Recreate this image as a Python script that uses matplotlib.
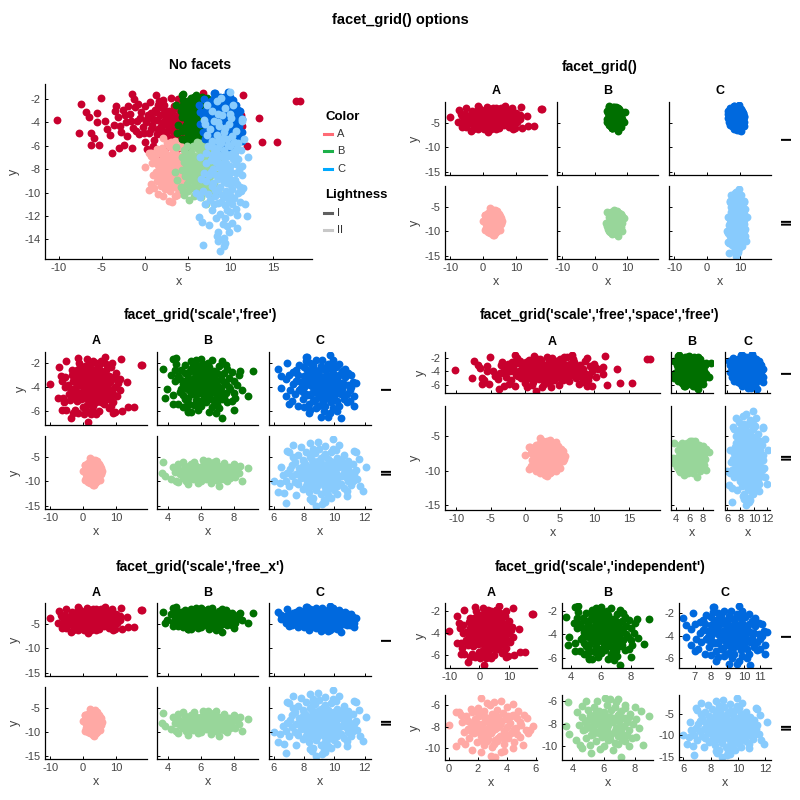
import numpy as np
import matplotlib
matplotlib.use('Agg')
import matplotlib.pyplot as plt
from matplotlib.ticker import MultipleLocator
from matplotlib.lines import Line2D

plt.rcParams['font.family'] = ['Liberation Sans', 'DejaVu Sans']
plt.rcParams['axes.unicode_minus'] = False

# categories
colors_lab = ['A', 'B', 'C']
light_lab = ['I', 'II']

# point clouds (x, y) - group A, lightness I
a_1 = np.array([
    (-10.2, -3.8), (-7.7, -4.9), (-7.4, -2.4), (-6.8, -3.1), (-6.5, -3.5), (-6.3, -5.9),
    (-6.2, -4.9), (-5.9, -5.3), (-5.5, -3.2), (-5.6, -4.0), (-5.3, -5.9), (-5.1, -1.9),
    (-4.6, -3.9), (-4.4, -4.6), (-3.8, -6.6), (-3.0, -6.2), (-1.5, -6.2), (-1.5, -1.6),
    (-1.2, -2.0), (1.3, -1.7), (2.1, -2.1), (3.1, -1.9), (6.8, -1.5), (6.0, -1.9),
    (11.5, -1.7), (13.3, -3.6), (13.7, -5.7), (15.4, -5.7), (11.9, -6.0), (17.7, -2.2),
    (18.1, -2.2), (11.2, -3.4), (11.3, -4.3), (1.5, -6.9), (9.7, -6.1), (3.8, -6.3),
    (-3.6, -4.2), (-3.1, -3.5), (-2.8, -4.8), (-2.5, -2.9), (-2.2, -4.0), (-2.0, -5.2),
    (-1.7, -3.3), (-1.4, -4.5), (-1.1, -2.7), (-0.9, -3.9), (-0.6, -5.0), (-0.4, -3.1),
    (-0.2, -4.4), (0.1, -2.6), (0.3, -3.7), (0.5, -4.9), (0.7, -3.2), (0.9, -4.2),
    (1.1, -5.5), (1.2, -2.9), (1.4, -3.8), (1.6, -4.6), (1.8, -3.4), (2.0, -5.1),
    (2.1, -4.0), (2.3, -2.5), (2.5, -3.6), (2.6, -4.8), (2.8, -3.0), (3.0, -4.3),
    (3.1, -5.6), (3.3, -3.5), (3.5, -4.0), (3.6, -2.8), (3.8, -4.7), (4.0, -3.3),
    (4.1, -5.3), (4.3, -3.9), (4.5, -2.4), (4.6, -4.4), (4.8, -3.1), (5.0, -5.0),
    (5.1, -3.7), (5.3, -4.2), (5.5, -2.7), (5.7, -3.5), (5.8, -4.9), (6.0, -4.0),
    (6.2, -3.0), (6.4, -5.4), (6.6, -3.8), (6.8, -4.5), (7.0, -2.6), (7.2, -3.4),
    (7.4, -5.0), (7.6, -4.1), (7.9, -3.1), (8.1, -4.7), (8.3, -3.6), (8.6, -2.4),
    (8.8, -4.3), (9.1, -5.3), (9.4, -3.2), (9.7, -4.0), (10.0, -2.9), (10.3, -4.8),
    (10.6, -3.7), (-4.0, -5.1), (-3.3, -2.6), (1.0, -6.0), (2.4, -6.3), (4.9, -6.0),
    (7.8, -5.8), (0.0, -5.7), (5.6, -1.9), (-2.4, -5.9), (8.9, -2.0), (9.0, -6.2),
    (1.7, -2.2), (3.9, -2.0), (0.6, -2.3), (6.9, -2.1), (-0.8, -2.4), (2.7, -5.9),
    (3.4, -4.9), (4.4, -3.6), (1.9, -4.3), (3.2, -3.1), (4.7, -4.0), (2.2, -3.3),
    (5.4, -4.6), (0.2, -4.0), (6.3, -4.3), (2.9, -3.9),
    (0.4, -3.4), (0.8, -4.6), (1.3, -3.1), (1.5, -5.0), (1.9, -2.7), (2.2, -4.7),
    (2.4, -3.0), (2.6, -4.2), (3.0, -3.3), (3.2, -4.6), (3.4, -2.6), (3.6, -3.7),
    (3.7, -5.2), (3.9, -4.3), (4.2, -2.9), (4.4, -4.8), (4.6, -3.3), (4.9, -4.4),
    (5.2, -3.0), (5.4, -5.3), (5.6, -4.1), (5.9, -3.2), (6.1, -4.7), (6.5, -2.9),
    (6.7, -4.1), (7.1, -3.8), (7.3, -4.6), (7.7, -3.5), (8.0, -4.3), (8.4, -5.1),
    (-0.5, -3.6), (-1.0, -4.7), (-1.6, -3.9), (-2.3, -3.4), (-2.9, -4.3), (-0.1, -4.9),
    (1.0, -3.7), (2.8, -5.3), (4.1, -4.1), (6.0, -3.5), (-3.5, -3.0), (9.2, -4.6),
    (10.1, -3.4), (1.6, -2.5), (5.0, -2.2), (-1.9, -2.6), (8.5, -5.6), (0.3, -6.3),
])

# group B, lightness I
b_1 = np.array([
    (3.7, -2.5), (4.3, -1.7), (4.5, -1.6), (3.9, -4.2), (3.8, -4.9), (4.3, -5.4),
    (4.9, -5.7), (5.2, -6.1), (5.4, -6.1), (7.3, -6.6), (8.0, -5.9), (8.1, -4.9),
    (8.9, -4.8), (9.2, -2.7), (8.4, -2.7), (6.7, -1.8), (8.0, -3.5), (7.5, -2.2),
    (4.6, -3.1), (4.7, -4.4), (4.8, -2.6), (4.9, -3.8), (5.0, -5.0), (5.0, -2.2),
    (5.1, -4.1), (5.2, -3.3), (5.3, -5.4), (5.3, -2.8), (5.4, -4.6), (5.5, -3.6),
    (5.5, -2.3), (5.6, -4.0), (5.7, -5.1), (5.7, -3.0), (5.8, -4.4), (5.9, -2.6),
    (5.9, -3.7), (6.0, -5.6), (6.0, -4.2), (6.1, -3.2), (6.1, -2.1), (6.2, -4.8),
    (6.2, -3.9), (6.3, -2.8), (6.3, -5.3), (6.4, -3.5), (6.4, -4.5), (6.5, -2.4),
    (6.6, -4.0), (6.6, -5.0), (6.7, -3.1), (6.8, -4.3), (6.8, -2.7), (6.9, -3.7),
    (7.0, -5.4), (7.0, -4.7), (7.1, -2.3), (7.2, -3.4), (7.2, -4.1), (7.3, -5.0),
    (7.4, -2.9), (7.5, -3.8), (7.5, -4.5), (7.6, -2.5), (7.7, -3.3), (7.8, -4.2),
    (7.9, -5.2), (4.4, -3.5), (4.3, -4.7), (4.5, -2.1), (4.6, -5.4), (5.2, -6.0),
    (5.8, -5.9), (6.5, -6.1), (7.1, -5.8), (8.2, -3.9), (8.3, -3.0), (8.5, -4.3),
    (4.2, -3.0), (5.4, -1.9), (6.0, -1.7), (7.3, -1.9), (6.9, -6.2), (5.6, -5.5),
    (6.3, -4.9), (5.9, -3.3), (6.7, -3.6), (5.3, -4.3), (6.1, -4.6), (6.8, -5.2),
    (5.6, -2.7), (7.4, -4.9), (5.0, -3.5),
    (4.9, -4.7), (5.0, -2.9), (5.1, -3.6), (5.2, -4.9), (5.3, -3.9), (5.4, -2.5),
    (5.5, -4.3), (5.6, -3.3), (5.7, -4.7), (5.8, -2.3), (5.8, -3.9), (5.9, -5.2),
    (6.0, -3.0), (6.0, -4.5), (6.1, -3.6), (6.2, -5.1), (6.2, -2.5), (6.3, -4.1),
    (6.4, -3.1), (6.5, -4.8), (6.5, -3.8), (6.6, -2.8), (6.7, -4.4), (6.8, -3.3),
    (6.9, -5.0), (7.0, -3.9), (7.0, -2.9), (7.1, -4.4), (7.2, -3.0), (7.3, -4.6),
    (7.4, -3.6), (7.6, -5.3), (7.7, -4.0), (4.8, -4.2), (5.1, -5.6), (6.7, -5.7),
    (4.7, -3.4), (7.9, -2.8), (8.0, -4.5), (6.4, -2.0), (5.7, -1.8), (4.4, -2.6),
])

# group C, lightness I
c_1 = np.array([
    (6.3, -2.5), (6.5, -3.1), (6.5, -4.1), (6.8, -3.4), (6.8, -4.8), (7.0, -5.4),
    (6.9, -2.0), (8.1, -1.5), (8.2, -1.5), (9.7, -1.4), (8.6, -2.5), (9.1, -6.5),
    (10.4, -6.6), (10.2, -6.0), (11.1, -3.0), (11.2, -3.6), (11.4, -3.7), (11.0, -5.2),
    (10.5, -2.8), (8.3, -6.2), (8.8, -5.8), (9.9, -1.8),
    (7.6, -3.0), (7.7, -4.3), (7.8, -3.6), (7.9, -5.0), (8.0, -2.4), (8.0, -4.0),
    (8.1, -3.3), (8.2, -4.7), (8.3, -2.8), (8.3, -5.4), (8.4, -3.9), (8.5, -3.1),
    (8.5, -4.5), (8.6, -2.2), (8.7, -3.6), (8.7, -5.1), (8.8, -4.2), (8.9, -2.7),
    (8.9, -3.4), (9.0, -4.8), (9.0, -4.0), (9.1, -2.3), (9.1, -5.5), (9.2, -3.2),
    (9.2, -4.4), (9.3, -3.8), (9.4, -2.6), (9.4, -5.0), (9.5, -4.1), (9.5, -3.0),
    (9.6, -4.7), (9.6, -2.1), (9.7, -3.5), (9.8, -5.3), (9.8, -4.3), (9.9, -2.9),
    (10.0, -3.9), (10.0, -4.9), (10.1, -2.4), (10.2, -3.3), (10.2, -4.5), (10.3, -5.6),
    (10.4, -3.7), (10.5, -2.7), (10.5, -4.2), (10.6, -5.0), (10.7, -3.2), (10.8, -4.6),
    (10.9, -3.9), (7.4, -4.6), (7.3, -3.8), (7.5, -2.6), (7.2, -5.2), (7.6, -5.6),
    (8.1, -1.9), (8.8, -1.8), (9.3, -6.0), (9.7, -6.2), (10.3, -2.1), (11.0, -4.3),
    (11.3, -4.8), (7.0, -3.0), (8.4, -5.9), (9.9, -5.8), (8.6, -4.0), (9.3, -4.6),
    (8.9, -5.6), (10.1, -3.5), (9.5, -3.6), (8.2, -3.7), (9.0, -3.0), (10.6, -3.8),
    (8.5, -2.5), (7.9, -4.4), (9.8, -2.5),
    (7.8, -4.1), (8.0, -3.1), (8.1, -4.6), (8.2, -2.6), (8.3, -3.5), (8.4, -4.7),
    (8.5, -3.7), (8.6, -5.2), (8.7, -2.9), (8.8, -3.9), (8.9, -4.6), (9.0, -2.6),
    (9.1, -3.6), (9.2, -5.0), (9.3, -3.2), (9.4, -4.2), (9.5, -2.4), (9.6, -3.9),
    (9.7, -4.9), (9.8, -3.1), (9.9, -4.4), (10.0, -2.3), (10.1, -4.0), (10.2, -5.2),
    (10.3, -3.0), (10.4, -4.6), (10.7, -2.5), (10.8, -5.3), (11.1, -4.0), (7.5, -3.5),
    (7.7, -2.2), (7.1, -4.3), (8.0, -5.7), (9.4, -5.6), (10.9, -2.9), (8.4, -2.0),
    (9.2, -1.8), (7.3, -2.8), (11.3, -5.6), (9.6, -6.5),
])

# group A, lightness II
a_2 = np.array([
    (0.0, -7.8), (0.5, -6.6), (0.7, -6.6), (0.5, -9.8), (2.2, -5.3), (4.4, -5.9),
    (5.8, -7.9), (5.6, -8.3), (5.3, -8.3), (4.7, -8.7), (3.2, -10.8), (3.8, -10.2),
    (0.8, -9.3), (1.3, -7.4), (1.5, -6.3), (4.9, -7.5), (5.4, -7.2), (2.6, -9.3),
    (1.2, -7.0), (1.3, -8.2), (1.4, -9.0), (1.5, -7.6), (1.6, -6.6), (1.7, -8.6),
    (1.8, -7.3), (1.9, -9.4), (2.0, -8.0), (2.0, -6.2), (2.1, -7.0), (2.2, -8.8),
    (2.3, -7.7), (2.4, -9.7), (2.4, -6.5), (2.5, -8.3), (2.6, -7.2), (2.7, -9.1),
    (2.8, -6.0), (2.8, -7.9), (2.9, -8.6), (3.0, -6.8), (3.0, -9.9), (3.1, -7.5),
    (3.2, -8.2), (3.3, -9.3), (3.3, -6.4), (3.4, -7.1), (3.5, -8.8), (3.5, -7.8),
    (3.6, -10.3), (3.7, -6.7), (3.8, -8.4), (3.8, -9.6), (3.9, -7.3), (4.0, -8.0),
    (4.0, -6.1), (4.1, -9.0), (4.2, -7.6), (4.3, -8.6), (4.4, -6.9), (4.5, -9.4),
    (4.6, -8.1), (4.7, -7.2), (4.8, -6.5), (4.9, -8.9), (5.0, -7.8), (5.1, -9.7),
    (5.2, -6.9), (1.0, -8.5), (0.9, -7.5), (1.1, -9.6), (0.8, -6.9), (1.6, -10.1),
    (2.2, -10.3), (2.6, -5.8), (3.1, -5.7), (3.6, -5.6), (2.9, -10.7), (4.4, -10.0),
    (5.5, -8.6), (2.5, -7.4), (3.4, -8.0), (3.0, -7.1), (2.1, -8.5), (3.7, -9.0),
    (2.7, -8.1), (1.7, -7.9), (4.3, -7.0), (3.2, -9.2),
    (1.9, -7.6), (2.2, -8.2), (2.4, -7.0), (2.6, -8.7), (2.8, -7.4), (3.0, -8.4),
    (3.2, -6.9), (3.4, -9.0), (3.6, -7.5), (3.9, -8.7), (4.1, -7.0), (2.3, -9.2),
    (3.1, -9.6), (2.0, -6.7), (4.5, -8.2), (1.5, -8.4),
])

# group B, lightness II
b_2 = np.array([
    (3.7, -6.1), (3.6, -8.2), (3.8, -8.9), (4.6, -6.4), (4.6, -10.2), (5.2, -10.6),
    (7.1, -11.0), (6.1, -5.7), (7.4, -6.3), (8.0, -6.5), (8.9, -7.3), (8.5, -9.9),
    (8.1, -9.2), (8.1, -7.6), (6.4, -5.8),
    (4.6, -7.4), (4.7, -8.6), (4.8, -7.9), (4.9, -9.3), (5.0, -6.8), (5.0, -8.2),
    (5.1, -7.2), (5.2, -9.0), (5.3, -7.7), (5.3, -8.5), (5.4, -6.5), (5.5, -9.6),
    (5.5, -8.0), (5.6, -7.3), (5.7, -8.8), (5.7, -6.9), (5.8, -7.8), (5.9, -9.2),
    (5.9, -8.3), (6.0, -7.0), (6.0, -10.0), (6.1, -7.6), (6.2, -8.7), (6.2, -6.3),
    (6.3, -8.1), (6.4, -9.4), (6.4, -7.4), (6.5, -6.8), (6.5, -8.9), (6.6, -7.9),
    (6.7, -9.7), (6.7, -6.5), (6.8, -8.4), (6.9, -7.2), (6.9, -9.1), (7.0, -7.8),
    (7.1, -6.9), (7.1, -8.6), (7.2, -9.5), (7.3, -7.5), (7.3, -8.2), (7.4, -6.6),
    (7.5, -9.0), (7.5, -7.9), (7.6, -8.6), (7.7, -7.1), (7.8, -9.3), (7.9, -8.0),
    (4.4, -8.1), (4.3, -7.0), (4.2, -9.5), (4.5, -9.9), (5.8, -10.3), (6.6, -10.4),
    (7.6, -10.0), (8.3, -8.4), (8.4, -6.9), (5.6, -6.0), (6.9, -5.8), (4.9, -6.0),
    (6.1, -8.0), (5.4, -8.0), (6.6, -7.5), (5.2, -8.4), (7.0, -8.3), (6.3, -9.0),
    (5.9, -7.2), (6.8, -6.1), (5.1, -9.9), (7.4, -9.6),
    (5.0, -7.7), (5.3, -8.9), (5.6, -7.7), (5.8, -8.6), (6.1, -7.2), (6.3, -9.5),
    (6.5, -7.7), (6.7, -8.7), (7.0, -7.1), (7.2, -8.9), (5.5, -7.0), (6.0, -9.0),
    (7.6, -7.4), (4.8, -8.5), (6.9, -9.8), (6.2, -8.4),
])

# group C, lightness II
c_2 = np.array([
    (6.0, -10.0), (6.7, -12.5), (6.8, -14.5), (6.5, -7.0), (6.9, -3.8), (7.3, -2.5),
    (8.6, -3.3), (9.9, -1.4), (11.3, -3.7), (11.4, -3.9), (12.1, -7.0), (11.9, -12.0),
    (8.4, -13.7), (8.8, -15.0), (9.4, -14.3), (9.8, -13.4), (10.2, -12.6), (10.9, -10.0),
    (11.3, -8.5), (6.3, -12.1), (8.5, -14.1), (9.2, -14.6), (10.8, -11.9), (11.2, -9.9),
    (7.4, -6.0), (7.5, -8.5), (7.6, -10.6), (7.6, -4.6), (7.7, -7.2), (7.8, -9.4),
    (7.9, -5.6), (7.9, -11.5), (8.0, -8.0), (8.1, -6.6), (8.1, -3.9), (8.2, -9.8),
    (8.3, -7.4), (8.3, -12.2), (8.4, -5.1), (8.5, -8.8), (8.5, -10.9), (8.6, -6.2),
    (8.7, -4.3), (8.7, -7.8), (8.8, -9.5), (8.8, -11.8), (8.9, -5.8), (8.9, -8.3),
    (9.0, -3.4), (9.0, -10.2), (9.1, -7.0), (9.1, -12.7), (9.2, -6.4), (9.2, -9.1),
    (9.3, -4.8), (9.3, -8.0), (9.4, -11.1), (9.4, -2.8), (9.5, -7.5), (9.5, -9.9),
    (9.6, -5.4), (9.6, -12.9), (9.7, -8.6), (9.7, -6.9), (9.8, -10.6), (9.8, -4.1),
    (9.9, -7.7), (9.9, -9.3), (10.0, -6.0), (10.0, -11.7), (10.1, -8.2), (10.1, -3.6),
    (10.2, -9.7), (10.2, -5.2), (10.3, -7.1), (10.4, -10.5), (10.4, -6.5), (10.5, -8.9),
    (10.6, -4.7), (10.6, -11.4), (10.7, -7.6), (10.8, -9.3), (10.9, -5.8), (11.0, -8.1),
    (11.1, -10.8), (11.2, -6.4), (7.2, -9.0), (7.1, -7.5), (7.0, -11.0), (7.3, -5.1),
    (6.9, -8.3), (6.8, -9.9), (7.0, -4.1), (6.6, -8.8), (6.4, -10.4), (11.4, -7.7),
    (11.5, -9.6), (11.6, -5.4), (11.7, -11.0), (8.4, -2.2), (8.9, -1.9), (10.3, -2.5),
    (7.8, -3.0), (8.6, -13.4), (9.3, -13.9), (7.5, -12.8), (10.8, -13.0), (9.0, -8.7),
    (8.4, -7.3), (9.6, -9.2), (8.2, -10.3), (10.5, -6.9), (9.4, -4.5), (8.0, -6.1),
    (8.0, -9.2), (8.2, -7.0), (8.3, -8.5), (8.5, -5.6), (8.6, -9.8), (8.7, -6.8),
    (8.9, -10.8), (9.0, -7.6), (9.1, -5.3), (9.2, -8.6), (9.3, -10.4), (9.4, -6.6),
    (9.5, -8.3), (9.6, -11.5), (9.7, -5.9), (9.8, -7.9), (9.9, -10.2), (10.0, -8.8),
    (10.1, -6.7), (10.2, -11.0), (10.3, -9.0), (10.4, -5.7), (10.6, -8.3), (10.8, -6.2),
    (7.7, -8.2), (7.9, -6.8), (8.1, -11.0), (7.4, -10.1), (9.4, -12.2), (10.9, -7.1),
    (11.1, -9.5), (8.6, -4.0), (9.9, -3.3), (7.2, -6.6),
])

data = {('A', 'I'): a_1, ('B', 'I'): b_1, ('C', 'I'): c_1,
        ('A', 'II'): a_2, ('B', 'II'): b_2, ('C', 'II'): c_2}
point_col = {('A', 'I'): '#C8002E', ('B', 'I'): '#006F00', ('C', 'I'): '#0069DE',
             ('A', 'II'): '#FFA9A5', ('B', 'II'): '#98D69A', ('C', 'II'): '#88CBFD'}
legend_col = ['#FF6B75', '#1DB04A', '#00A9FF']
legend_light = ['#606060', '#C8C8C8']

W, H = 800, 800
fig = plt.figure(figsize=(8, 8), dpi=100)
TICK = '#444444'
MS = 32


def px_axes(l, t, r, b):
    return fig.add_axes([l / W, 1 - b / H, (r - l) / W, (b - t) / H])


def txt(x, y, s, **kw):
    fig.text(x / W, 1 - y / H, s, ha='center', va='center', **kw)


def style(ax, xstep, ystep):
    for s in ['top', 'right']:
        ax.spines[s].set_visible(False)
    for s in ['left', 'bottom']:
        ax.spines[s].set_linewidth(0.9)
    ax.tick_params(direction='in', length=2.5, width=0.7, labelsize=8,
                   labelcolor=TICK, pad=3)
    ax.xaxis.set_major_locator(MultipleLocator(xstep))
    ax.yaxis.set_major_locator(MultipleLocator(ystep))


def rng(keys, k):
    v = np.concatenate([data[g][:, k] for g in keys])
    lo, hi = v.min(), v.max()
    m = (hi - lo) * 0.05
    return lo - m, hi + m


def draw(ax, keys):
    for c in colors_lab:
        for r in light_lab:
            if (c, r) in keys:
                p = data[(c, r)]
                ax.scatter(p[:, 0], p[:, 1], s=MS, color=point_col[(c, r)],
                           linewidths=0)


all_keys = list(data.keys())

# ---- No facets
ax = px_axes(45, 84, 312, 259)
draw(ax, all_keys)
ax.set_xlim(rng(all_keys, 0))
ax.set_ylim(rng(all_keys, 1))
style(ax, 5, 2)
ax.set_xlabel('x', fontsize=9, color=TICK, labelpad=2)
ax.set_ylabel('y', fontsize=9, color=TICK, labelpad=3)
txt(200, 65, 'No facets', fontsize=10, fontweight='bold')

# legend
fig.text(325 / W, 1 - 117 / H, 'Color', fontsize=9.5, fontweight='bold', va='center')
for i, (lab, y) in enumerate(zip(colors_lab, [134, 151, 169])):
    fig.add_artist(Line2D([324 / W, 332 / W], [1 - y / H] * 2, color=legend_col[i],
                          lw=2.2, transform=fig.transFigure))
    fig.text(337 / W, 1 - y / H, lab, fontsize=8, color='#333333', va='center')
fig.text(325 / W, 1 - 195 / H, 'Lightness', fontsize=9.5, fontweight='bold', va='center')
for i, (lab, y) in enumerate(zip(light_lab, [213, 230])):
    fig.add_artist(Line2D([324 / W, 332 / W], [1 - y / H] * 2, color=legend_light[i],
                          lw=2.2, transform=fig.transFigure))
    fig.text(337 / W, 1 - y / H, lab, fontsize=8, color='#333333', va='center')


def facet(cols, rows, mode, xsteps, ysteps, title, tx, ty, coly, rowx):
    txt(tx, ty, title, fontsize=10, fontweight='bold')
    for ri, r in enumerate(light_lab):
        for ci, c in enumerate(colors_lab):
            l, rr = cols[ci]
            t, b = rows[ri]
            ax = px_axes(l, t, rr, b)
            draw(ax, [(c, r)])
            if mode == 'fixed':
                xk, yk = all_keys, all_keys
            elif mode == 'free':
                xk = [(c, q) for q in light_lab]
                yk = [(q, r) for q in colors_lab]
            elif mode == 'free_x':
                xk = [(c, q) for q in light_lab]
                yk = all_keys
            else:
                xk, yk = [(c, r)], [(c, r)]
            ax.set_xlim(rng(xk, 0))
            ax.set_ylim(rng(yk, 1))
            if mode == 'independent':
                style(ax, xsteps[ri][ci], ysteps[ri][ci])
            else:
                style(ax, xsteps[ci], ysteps[ri])
                if ri == 0:
                    ax.tick_params(labelbottom=False)
                if ci > 0:
                    ax.tick_params(labelleft=False)
            if ri == 1:
                ax.set_xlabel('x', fontsize=9, color=TICK, labelpad=2)
            if ci == 0:
                ax.set_ylabel('y', fontsize=9, color=TICK, labelpad=3)
            if ri == 0:
                txt((l + rr) / 2, coly, c, fontsize=9, fontweight='bold')
        txt(rowx, (rows[ri][0] + rows[ri][1]) / 2, r, fontsize=10,
            fontweight='bold', rotation=-90)


facet([(445, 547), (557, 658), (669, 771)], [(102, 175), (186, 259)], 'fixed',
      [10, 10, 10], [5, 5], 'facet_grid()', 600, 67, 91, 783)

facet([(45, 147), (157, 258), (269, 371)], [(352, 425), (436, 509)], 'free',
      [10, 2, 2], [2, 5], "facet_grid('scale','free')", 200, 315, 341, 383)

facet([(445, 660), (671, 713), (725, 770)], [(352, 393), (406, 510)], 'free',
      [5, 2, 2], [2, 5], "facet_grid('scale','free','space','free')", 600, 315, 342, 783)

facet([(45, 147), (157, 258), (269, 371)], [(603, 676), (687, 759)], 'free_x',
      [10, 2, 2], [5, 5], "facet_grid('scale','free_x')", 200, 567, 593, 383)

facet([(445, 537), (562, 653), (679, 771)], [(603, 668), (695, 760)], 'independent',
      [[10, 2, 1], [2, 2, 2]], [[2, 2, 2], [2, 2, 5]],
      "facet_grid('scale','independent')", 600, 567, 593, 783)

txt(400, 20, 'facet_grid() options', fontsize=10.5, fontweight='bold')

fig.savefig('out.png', dpi=100)
